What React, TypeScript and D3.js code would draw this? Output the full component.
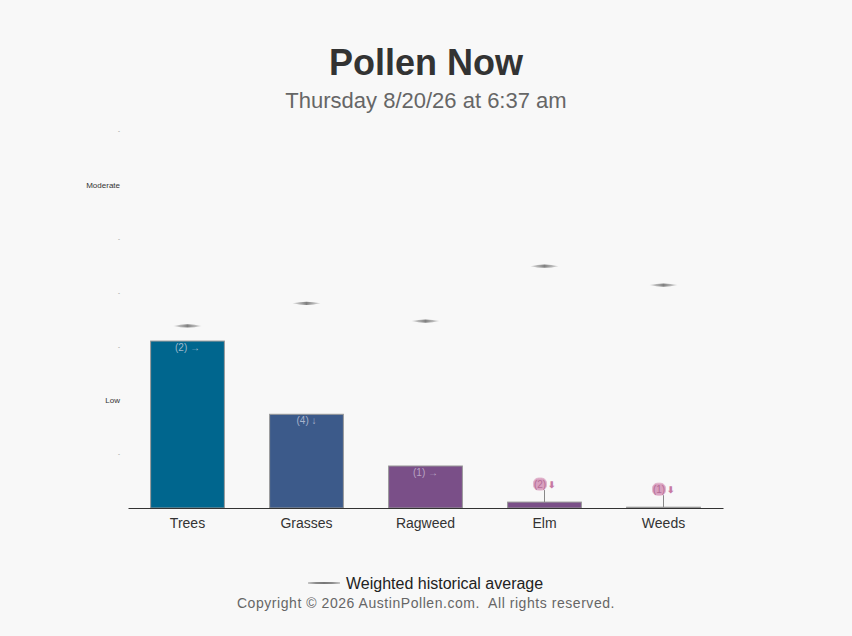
import { useRef, useEffect } from "react";
import * as d3 from "d3";

const categories = ["Trees", "Grasses", "Ragweed", "Elm", "Weeds"];
const currentLevel = [3.1, 1.74, 0.78, 0.11, 0.015];
const historicalAvg = [3.38, 3.8, 3.47, 4.49, 4.14];
const barLabels = ["(2) →", "(4) ↓", "(1) →", "(2)", "(1)"];
const barColors = ["#00668e", "#3c5a8a", "#7a4f88", "#7a4f88", "#b0b0b0"];
const yTickValues = [1, 2, 3, 4, 5, 6, 7];
const yTickLabels = ["-", "Low", "-", "-", "-", "Moderate", "-"];

const W = 852;
const H = 636;
const BG = "#f8f8f8";
const FONT = "'Liberation Sans', Arial, sans-serif";

export default function App() {
  const svgRef = useRef<SVGSVGElement>(null);

  useEffect(() => {
    if (!svgRef.current) return;
    const svg = d3.select(svgRef.current);
    svg.selectAll("*").remove();

    const margin = { top: 131, left: 128, right: W - 723, bottom: H - 508 };
    const innerW = W - margin.left - margin.right;
    const innerH = H - margin.top - margin.bottom;

    svg.append("rect").attr("width", W).attr("height", H).attr("fill", BG);

    const defs = svg.append("defs");
    const grad = defs.append("linearGradient").attr("id", "avgGrad").attr("x1", 0).attr("x2", 1);
    grad.append("stop").attr("offset", "0%").attr("stop-color", "#aaa").attr("stop-opacity", 0.4);
    grad.append("stop").attr("offset", "50%").attr("stop-color", "#808080");
    grad.append("stop").attr("offset", "100%").attr("stop-color", "#aaa").attr("stop-opacity", 0.4);

    // titles
    svg.append("text").attr("x", W / 2).attr("y", 75).attr("text-anchor", "middle")
      .attr("font-family", FONT).attr("font-size", 36).attr("font-weight", "bold")
      .attr("fill", "#333").text("Pollen Now");
    svg.append("text").attr("x", W / 2).attr("y", 108).attr("text-anchor", "middle")
      .attr("font-family", FONT).attr("font-size", 22).attr("fill", "#666")
      .text("Thursday 8/20/26 at 6:37 am");

    const g = svg.append("g").attr("transform", `translate(${margin.left},${margin.top})`);

    const x = d3.scaleBand<string>().domain(categories).range([0, innerW]).paddingInner(0.38).paddingOuter(0.19);
    const y = d3.scaleLinear().domain([0, 7]).range([innerH, 0]);

    // y ticks
    g.append("g").selectAll("text").data(yTickValues).join("text")
      .attr("x", -8).attr("y", (d) => y(d)).attr("dy", "0.35em")
      .attr("text-anchor", "end").attr("font-family", FONT)
      .attr("font-size", (_, i) => (yTickLabels[i] === "-" ? 6 : 8))
      .attr("fill", (_, i) => (yTickLabels[i] === "-" ? "#777" : "#333"))
      .text((_, i) => yTickLabels[i]);

    // bars
    g.append("g").selectAll("rect").data(categories).join("rect")
      .attr("x", (d) => x(d)!)
      .attr("y", (_, i) => y(currentLevel[i]))
      .attr("width", x.bandwidth())
      .attr("height", (_, i) => innerH - y(currentLevel[i]))
      .attr("fill", (_, i) => barColors[i])
      .attr("stroke", "#999").attr("stroke-width", 1);

    // labels inside tall bars
    const inside = categories.map((c, i) => ({ c, i })).filter((d) => innerH - y(currentLevel[d.i]) > 30);
    g.append("g").selectAll("text").data(inside).join("text")
      .attr("x", (d) => x(d.c)! + x.bandwidth() / 2)
      .attr("y", (d) => y(currentLevel[d.i]) + 10)
      .attr("text-anchor", "middle").attr("font-family", FONT).attr("font-size", 10)
      .attr("fill", (d) => (d.i === 0 ? "#9fb8cc" : d.i === 1 ? "#a8b4cc" : "#b9a4c4"))
      .text((d) => barLabels[d.i]);

    // labels above short bars, with stems
    const outside = categories.map((c, i) => ({ c, i })).filter((d) => innerH - y(currentLevel[d.i]) <= 30);
    const og = g.append("g").selectAll("g").data(outside).join("g")
      .attr("transform", (d) => `translate(${x(d.c)! + x.bandwidth() / 2},${y(currentLevel[d.i])})`);
    og.append("line").attr("x1", 0).attr("x2", 0).attr("y1", 0).attr("y2", -12)
      .attr("stroke", "#888").attr("stroke-width", 1);
    og.append("rect").attr("x", -11).attr("y", -24).attr("width", 13).attr("height", 12).attr("rx", 5)
      .attr("fill", "#d9a0bf").attr("stroke", "#e2b6cd");
    og.append("text").attr("x", -4.5).attr("y", -14.5).attr("text-anchor", "middle")
      .attr("font-family", FONT).attr("font-size", 10).attr("fill", "#b56c96")
      .text((d) => barLabels[d.i]);
    og.append("text").attr("x", 7).attr("y", -14.5).attr("text-anchor", "middle")
      .attr("font-family", FONT).attr("font-size", 9).attr("font-weight", "bold").attr("fill", "#c77aa3")
      .text("⬇");

    // historical average markers
    const lens = (cx: number, cy: number, hw: number, hh: number) =>
      `M${cx - hw},${cy} Q${cx},${cy - hh * 2} ${cx + hw},${cy} Q${cx},${cy + hh * 2} ${cx - hw},${cy} Z`;
    g.append("g").selectAll("path").data(categories).join("path")
      .attr("d", (d, i) => lens(x(d)! + x.bandwidth() / 2, y(historicalAvg[i]), 14, 1.6))
      .attr("fill", "url(#avgGrad)");

    // x axis
    const xAxis = g.append("g").attr("transform", `translate(0,${innerH})`)
      .call(d3.axisBottom(x).tickSize(0).tickPadding(10));
    xAxis.select(".domain").attr("stroke", "#333").attr("stroke-width", 1);
    xAxis.selectAll("text").attr("font-family", FONT).attr("font-size", 14).attr("fill", "#333");

    // legend
    svg.append("line").attr("x1", 308).attr("x2", 340).attr("y1", 583).attr("y2", 583)
      .attr("stroke", "#999").attr("stroke-width", 1);
    svg.append("path").attr("d", lens(324, 583, 16, 0.9)).attr("fill", "#777");
    svg.append("text").attr("x", 346).attr("y", 589).attr("font-family", FONT).attr("font-size", 16)
      .attr("fill", "#222").text("Weighted historical average");
    svg.append("text").attr("x", W / 2).attr("y", 608).attr("text-anchor", "middle")
      .attr("font-family", FONT).attr("font-size", 14).attr("fill", "#666")
      .attr("letter-spacing", "0.55px").style("white-space", "pre")
      .text("Copyright © 2026 AustinPollen.com.  All rights reserved.");
  }, []);

  return (
    <div style={{ position: "fixed", left: 0, top: 0, width: W, height: H, background: BG }}>
      <svg ref={svgRef} width={W} height={H} style={{ display: "block" }} />
    </div>
  );
}
